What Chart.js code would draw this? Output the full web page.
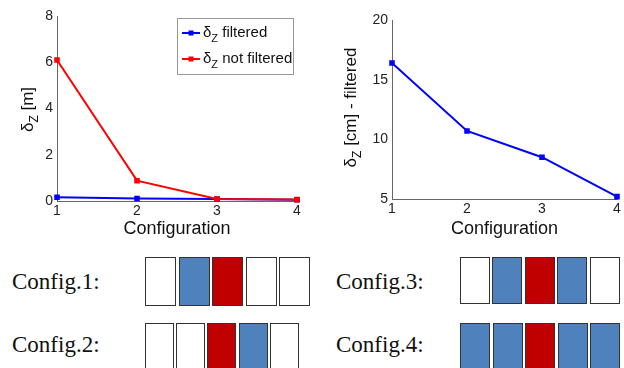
<!DOCTYPE html>
<html>
<head>
<meta charset="utf-8">
<script src="https://cdn.jsdelivr.net/npm/chart.js@4.4.0/dist/chart.umd.min.js"></script>
<style>
body{margin:0;background:#fff;width:624px;height:368px;overflow:hidden;position:relative}
.box{position:absolute}
.lbl{position:absolute;font-family:'Liberation Serif','Times New Roman',serif;font-size:23px;color:#111;line-height:26px;white-space:nowrap}
.cell{position:absolute;box-sizing:border-box;border:1.5px solid #333}
</style>
</head>
<body>
<div class="box" style="left:0;top:0;width:310px;height:240px"><canvas id="left"></canvas></div>
<div class="box" style="left:310px;top:0;width:314px;height:240px"><canvas id="right"></canvas></div>
<div id="configs"></div>
<script>
// data
const configs = ['1', '2', '3', '4'];
const filteredM = [0.164, 0.107, 0.085, 0.052];
const notFilteredM = [6.1, 0.88, 0.09, 0.06];
const filteredCm = [16.4, 10.7, 8.5, 5.2];
const ticksM = [0, 2, 4, 6, 8];
const ticksCm = [5, 10, 15, 20];

const configNames = ['Config.1:', 'Config.2:', 'Config.3:', 'Config.4:'];
// w = empty, b = blue, r = red
const configCells = [
  ['w', 'b', 'r', 'w', 'w'],
  ['w', 'w', 'r', 'b', 'w'],
  ['w', 'b', 'r', 'b', 'w'],
  ['b', 'b', 'r', 'b', 'b']
];

const SANS = "'Liberation Sans', Arial, Helvetica, sans-serif";
const cellColor = {w: '#ffffff', b: '#4f81bd', r: '#c00000'};

// text with a subscript part
function drawParts(ctx, parts, x, y, size, center) {
  let w = 0;
  parts.forEach(p => {
    ctx.font = (p.sub ? Math.round(size * 0.72) : size) + 'px ' + SANS;
    p.w = ctx.measureText(p.t).width;
    w += p.w;
  });
  let cx = center ? x - w / 2 : x;
  ctx.textBaseline = 'alphabetic';
  ctx.textAlign = 'left';
  parts.forEach(p => {
    ctx.font = (p.sub ? Math.round(size * 0.72) : size) + 'px ' + SANS;
    ctx.fillText(p.t, cx, y + (p.sub ? size * 0.3 : 0));
    cx += p.w;
  });
}

const richTitle = {
  id: 'richTitle',
  afterDraw(chart, args, opts) {
    const ctx = chart.ctx;
    const a = chart.chartArea;
    ctx.save();
    ctx.fillStyle = '#111';
    ctx.translate(opts.x, (a.top + a.bottom) / 2 + (opts.dy || 0));
    ctx.rotate(-Math.PI / 2);
    drawParts(ctx, opts.parts, 0, 0, 17, true);
    ctx.restore();
  }
};

const boxLegend = {
  id: 'boxLegend',
  afterDraw(chart, args, opts) {
    if (!opts.show) return;
    const ctx = chart.ctx;
    ctx.save();
    ctx.fillStyle = '#fff';
    ctx.fillRect(opts.x, opts.y, opts.w, opts.h);
    ctx.strokeStyle = '#999';
    ctx.lineWidth = 1;
    ctx.strokeRect(opts.x + 0.5, opts.y + 0.5, opts.w, opts.h);
    opts.items.forEach((it, i) => {
      const ds = chart.data.datasets[it.ds];
      const ry = opts.y + 15 + i * 26;
      ctx.strokeStyle = ds.borderColor;
      ctx.lineWidth = 2;
      ctx.beginPath();
      ctx.moveTo(opts.x + 5, ry);
      ctx.lineTo(opts.x + 23, ry);
      ctx.stroke();
      ctx.fillStyle = ds.borderColor;
      ctx.fillRect(opts.x + 11.5, ry - 2.5, 5, 5);
      ctx.fillStyle = '#111';
      drawParts(ctx, it.parts, opts.x + 26, ry + 4, 15, false);
    });
    ctx.restore();
  }
};
Chart.register(richTitle, boxLegend);

function axes(ticks, yWidth, xHeight) {
  const tickFont = {family: SANS, size: 14};
  return {
    x: {
      type: 'category', offset: false,
      grid: {display: true, drawOnChartArea: false, drawTicks: false},
      border: {display: true, color: '#666', width: 1},
      ticks: {color: '#222', font: tickFont, padding: 2, maxRotation: 0},
      title: {display: true, text: 'Configuration', color: '#111', font: {family: SANS, size: 18}, padding: 0},
      afterFit: s => { s.height = xHeight; }
    },
    y: {
      min: ticks[0], max: ticks[ticks.length - 1],
      grid: {display: true, drawOnChartArea: false, drawTicks: false},
      border: {display: true, color: '#666', width: 1},
      ticks: {color: '#222', font: tickFont, padding: 4, stepSize: ticks[1] - ticks[0]},
      afterFit: s => { s.width = yWidth; }
    }
  };
}

function line(data, color, order) {
  return {
    data: data, borderColor: color, backgroundColor: color, borderWidth: 2,
    pointStyle: 'rect', pointRadius: 2.5, pointHoverRadius: 2.5, order: order, clip: false, tension: 0
  };
}

new Chart(document.getElementById('left'), {
  type: 'line',
  data: {
    labels: configs,
    datasets: [line(filteredM, '#0000ff', 1), line(notFilteredM, '#ff0000', 0)]
  },
  options: {
    responsive: true, maintainAspectRatio: false, animation: false,
    layout: {padding: {top: 16, right: 13, left: 0, bottom: 0}},
    scales: axes(ticksM, 57, 39),
    plugins: {
      legend: {display: false}, tooltip: {enabled: false},
      richTitle: {x: 33, dy: 1, parts: [{t: 'δ'}, {t: 'Z', sub: true}, {t: ' [m]'}]},
      boxLegend: {
        show: true, x: 177, y: 18, w: 116, h: 56,
        items: [
          {ds: 0, parts: [{t: 'δ'}, {t: 'Z', sub: true}, {t: ' filtered'}]},
          {ds: 1, parts: [{t: 'δ'}, {t: 'Z', sub: true}, {t: ' not filtered'}]}
        ]
      }
    }
  }
});

new Chart(document.getElementById('right'), {
  type: 'line',
  data: {
    labels: configs,
    datasets: [line(filteredCm, '#0000ff', 0)]
  },
  options: {
    responsive: true, maintainAspectRatio: false, animation: false,
    layout: {padding: {top: 20, right: 7, left: 0, bottom: 0}},
    scales: axes(ticksCm, 82, 41),
    plugins: {
      legend: {display: false}, tooltip: {enabled: false},
      richTitle: {x: 46, dy: -2, parts: [{t: 'δ'}, {t: 'Z', sub: true}, {t: ' [cm] - filtered'}]},
      boxLegend: {show: false}
    }
  }
});

// configuration strips
const stripPos = [
  {lx: 12, ly: 269, x: 145, y: 257, pitch: 33.5, w: 31, h: 49},
  {lx: 12, ly: 332, x: 145, y: 323, pitch: 31.2, w: 29, h: 50},
  {lx: 336, ly: 269, x: 460, y: 257, pitch: 32.4, w: 30, h: 47},
  {lx: 336, ly: 332, x: 460, y: 323, pitch: 32.5, w: 30, h: 50}
];
const holder = document.getElementById('configs');
configNames.forEach((name, i) => {
  const p = stripPos[i];
  const lbl = document.createElement('div');
  lbl.className = 'lbl';
  lbl.style.left = p.lx + 'px';
  lbl.style.top = p.ly + 'px';
  lbl.textContent = name;
  holder.appendChild(lbl);
  configCells[i].forEach((c, j) => {
    const d = document.createElement('div');
    d.className = 'cell';
    d.style.left = (p.x + j * p.pitch) + 'px';
    d.style.top = p.y + 'px';
    d.style.width = p.w + 'px';
    d.style.height = p.h + 'px';
    d.style.background = cellColor[c];
    holder.appendChild(d);
  });
});
</script>
</body>
</html>
